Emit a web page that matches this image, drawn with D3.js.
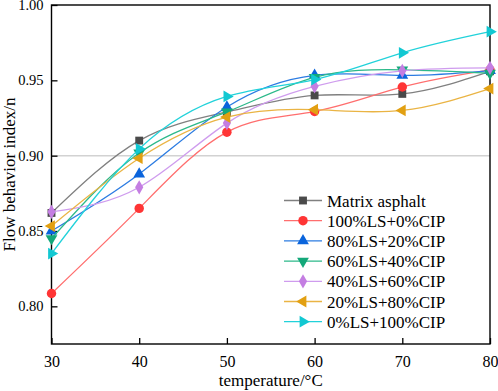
<!DOCTYPE html>
<html>
<head>
<meta charset="utf-8">
<script src="https://cdn.jsdelivr.net/npm/d3@7"></script>
<style>
  body { margin: 0; background: #fff; }
  text { font-family: "Liberation Serif", "Times New Roman", serif; fill: #000; }
</style>
</head>
<body>
<div id="chart"></div>
<script>
const temps = [30, 40, 50, 60, 70, 80];
const seriesNames = ["Matrix asphalt", "100%LS+0%CIP", "80%LS+20%CIP", "60%LS+40%CIP",
  "40%LS+60%CIP", "20%LS+80%CIP", "0%LS+100%CIP"];
const matrix = [0.862, 0.910, 0.929, 0.940, 0.941, 0.956];
const ls100 = [0.8085, 0.865, 0.9156, 0.9293, 0.9456, 0.957];
const ls80 = [0.850, 0.8878, 0.9323, 0.9533, 0.9533, 0.9565];
const ls60 = [0.845, 0.9018, 0.929, 0.952, 0.957, 0.9548];
const ls40 = [0.8627, 0.879, 0.9216, 0.946, 0.9563, 0.9583];
const ls20 = [0.8533, 0.8983, 0.9256, 0.9305, 0.930, 0.9445];
const ls0 = [0.835, 0.9045, 0.9393, 0.9505, 0.9683, 0.9823];
const xTicks = [30, 40, 50, 60, 70, 80];
const yTicks = [0.80, 0.85, 0.90, 0.95, 1.00];

const allValues = [matrix, ls100, ls80, ls60, ls40, ls20, ls0];
const markerColors = ["#4a4a4a", "#ff3535", "#0a64dc", "#14a87a", "#c47ee2", "#e2a012", "#12c8d2"];
const lineColors = ["#808080", "#ff6e6e", "#2c7ce2", "#2cb98a", "#cf9cee", "#eab444", "#22d2da"];
// symbol, rotation, size for each series
const shapes = [
  [d3.symbolSquare, 0, 62],
  [d3.symbolCircle, 0, 70],
  [d3.symbolTriangle, 0, 60],
  [d3.symbolTriangle, 180, 60],
  [d3.symbolDiamond, 0, 58],
  [d3.symbolTriangle, -90, 60],
  [d3.symbolTriangle, 90, 60]
];

const width = 498, height = 391;
const margin = {left: 51.5, right: 8, top: 5, bottom: 47};

const svg = d3.select("#chart")
  .append("svg")
  .attr("width", width)
  .attr("height", height);

const x = d3.scaleLinear()
  .domain([30, 80])
  .range([margin.left, width - margin.right]);

const y = d3.scaleLinear()
  .domain([0.775, 1.0])
  .range([height - margin.bottom, margin.top]);

// reference line at 0.90
svg.append("line")
  .attr("x1", x(30)).attr("x2", x(80))
  .attr("y1", y(0.90)).attr("y2", y(0.90))
  .attr("stroke", "#d2d2d2")
  .attr("stroke-width", 1.5);

// axes, ticks pointing inward
svg.append("g")
  .attr("transform", `translate(0,${height - margin.bottom})`)
  .call(d3.axisBottom(x).tickValues(xTicks).tickSize(-6).tickPadding(12).tickFormat(d3.format("d")))
  .call(g => g.select(".domain").remove())
  .call(g => g.selectAll("line").attr("stroke-width", 1.3))
  .call(g => g.selectAll("text").style("font-size", "16px").style("font-family", "Liberation Serif"));

svg.append("g")
  .attr("transform", `translate(${margin.left},0)`)
  .call(d3.axisLeft(y).tickValues(yTicks).tickSize(-6).tickPadding(8).tickFormat(d3.format(".2f")))
  .call(g => g.select(".domain").remove())
  .call(g => g.selectAll("line").attr("stroke-width", 1.3))
  .call(g => g.selectAll("text").style("font-size", "14.5px").style("font-family", "Liberation Serif"));

// frame
svg.append("rect")
  .attr("x", margin.left).attr("y", margin.top)
  .attr("width", width - margin.right - margin.left)
  .attr("height", height - margin.bottom - margin.top)
  .attr("fill", "none")
  .attr("stroke", "#000")
  .attr("stroke-width", 1.4);

const line = d3.line()
  .x((d, i) => x(temps[i]))
  .y(d => y(d))
  .curve(d3.curveNatural);

allValues.forEach((vals, s) => {
  const g = svg.append("g");
  g.append("path")
    .attr("d", line(vals))
    .attr("fill", "none")
    .attr("stroke", lineColors[s])
    .attr("stroke-width", 1.3);
  g.selectAll("path.pt")
    .data(vals)
    .join("path")
    .attr("class", "pt")
    .attr("d", d3.symbol().type(shapes[s][0]).size(shapes[s][2]))
    .attr("transform", (d, i) => `translate(${x(temps[i])},${y(d)}) rotate(${shapes[s][1]})`)
    .attr("fill", markerColors[s]);
});

// legend
const legend = svg.append("g");
seriesNames.forEach((name, s) => {
  const ly = 200.5 + s * 20.2;
  legend.append("line")
    .attr("x1", 284).attr("x2", 322)
    .attr("y1", ly).attr("y2", ly)
    .attr("stroke", lineColors[s])
    .attr("stroke-width", 1.3);
  legend.append("path")
    .attr("d", d3.symbol().type(shapes[s][0]).size(shapes[s][2]))
    .attr("transform", `translate(303,${ly}) rotate(${shapes[s][1]})`)
    .attr("fill", markerColors[s]);
  legend.append("text")
    .attr("x", 327)
    .attr("y", ly + 6)
    .style("font-size", "17px")
    .text(name);
});

// axis titles
svg.append("text")
  .attr("x", (x(30) + x(80)) / 2)
  .attr("y", 386)
  .attr("text-anchor", "middle")
  .style("font-size", "17px")
  .text("temperature/°C");

svg.append("text")
  .attr("transform", `translate(15,${(y(0.775) + y(1.0)) / 2}) rotate(-90)`)
  .attr("text-anchor", "middle")
  .style("font-size", "17px")
  .text("Flow behavior index/n");
</script>
</body>
</html>
